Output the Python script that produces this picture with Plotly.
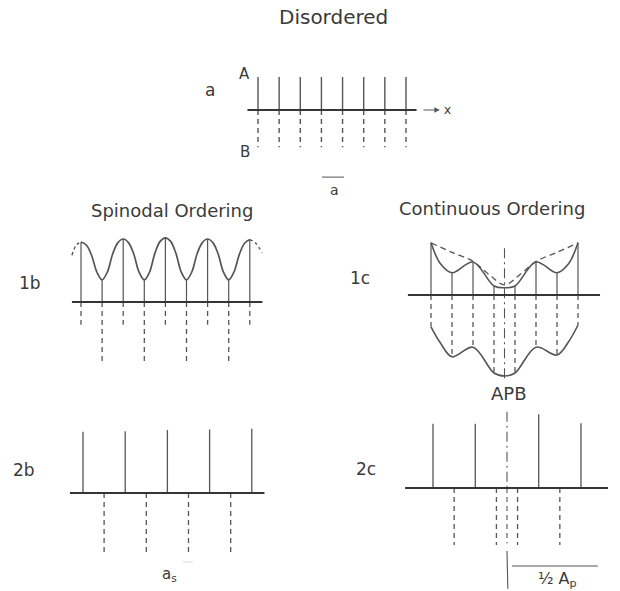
import plotly.graph_objects as go

W, H = 620, 591
PX = 60.0  # pixels per amplitude unit (vertical scale shared by all panels)

# ---------------- data (site index, amplitude) ----------------
# a : disordered lattice
DIS_SITES = [0, 1, 2, 3, 4, 5, 6, 7]
DIS_A = [0.55, 0.55, 0.55, 0.55, 0.55, 0.55, 0.55, 0.55]
DIS_B = [-0.62, -0.62, -0.62, -0.62, -0.62, -0.62, -0.62, -0.62]

# 1b : spinodal ordering
SPIN_SITES = [0, 1, 2, 3, 4, 5, 6, 7, 8]
SPIN_TOP = [1.00, 0.37, 1.05, 0.37, 1.07, 0.37, 1.05, 0.37, 1.04]
SPIN_BOT = [-0.38, -1.00, -0.38, -1.00, -0.38, -1.00, -0.38, -1.00, -0.38]
SPIN_CURVE_X = [0, 0.25, 0.5, 0.75, 1, 1.25, 1.5, 1.75, 2, 2.25, 2.5, 2.75, 3, 3.25, 3.5, 3.75,
                4, 4.25, 4.5, 4.75, 5, 5.25, 5.5, 5.75, 6, 6.25, 6.5, 6.75, 7, 7.25, 7.5, 7.75, 8]
SPIN_CURVE_Y = [1.00, 0.95, 0.78, 0.50, 0.37, 0.50, 0.80, 0.99, 1.05, 0.99, 0.80, 0.50, 0.37, 0.50,
                0.81, 1.01, 1.07, 1.01, 0.81, 0.50, 0.37, 0.50, 0.80, 0.99, 1.05, 0.99, 0.80, 0.50,
                0.37, 0.50, 0.79, 0.98, 1.04]
SPIN_END_L_X = [-0.43, -0.22, 0.0]
SPIN_END_L_Y = [0.78, 0.95, 1.00]
SPIN_END_R_X = [8.0, 8.28, 8.58]
SPIN_END_R_Y = [1.04, 0.98, 0.82]

# 1c : continuous ordering with antiphase boundary
CONT_SITES = [0, 1, 2, 3, 4, 5, 6, 7]
CONT_TOP = [0.87, 0.37, 0.55, 0.15, 0.15, 0.55, 0.37, 0.87]
CONT_BOT = [-0.53, -1.03, -0.87, -1.30, -1.30, -0.87, -1.03, -0.50]
CONT_CURVE_X = [0, 0.45, 1, 2, 3, 3.5, 4, 5, 6, 6.55, 7]
CONT_CURVE_TOP = [0.87, 0.52, 0.37, 0.55, 0.15, 0.12, 0.15, 0.55, 0.37, 0.52, 0.87]
CONT_CURVE_BOT = [-0.53, -0.80, -1.03, -0.87, -1.30, -1.35, -1.30, -0.87, -1.00, -0.78, -0.50]
CONT_ENV_X = [0, 1, 2, 2.8, 3.5, 4.2, 5, 6, 7]
CONT_ENV_Y = [0.87, 0.71, 0.56, 0.33, 0.17, 0.33, 0.56, 0.71, 0.87]
APB_POS = 3.5

# 2b : ordered (spinodal end state)
ORD_A_SITES = [0, 2, 4, 6, 8]
ORD_A = [1.02, 1.03, 1.05, 1.06, 1.07]
ORD_B_SITES = [1, 3, 5, 7]
ORD_B = [-1.00, -1.00, -1.00, -1.00]

# 2c : ordered with APB
APB_A_SITES = [0, 2, 5, 7]
APB_A = [1.07, 1.07, 1.23, 1.08]
APB_B_SITES = [1, 3, 4, 6]
APB_B = [-0.95, -0.95, -0.95, -0.95]

# ---------------- layout of the panels (pixel placement) ----------------
PANELS = {
    "a":  dict(k=1, x0=258, y0=110, pitch=21.14, xr=[-3.0, 10.5], yr=[-1.6, 1.0], base=[-0.5, 7.5]),
    "1b": dict(k=2, x0=81,  y0=302, pitch=21.10, xr=[-3.5, 9.5],  yr=[-1.2, 1.3], base=[-0.43, 8.6]),
    "1c": dict(k=3, x0=431, y0=295, pitch=21.00, xr=[-1.5, 8.5],  yr=[-1.5, 1.0], base=[-1.1, 8.05]),
    "2b": dict(k=4, x0=83,  y0=493, pitch=21.10, xr=[-3.5, 9.5],  yr=[-1.6, 1.2], base=[-0.62, 8.6]),
    "2c": dict(k=5, x0=433, y0=488, pitch=21.14, xr=[-1.5, 8.5],  yr=[-1.7, 1.7], base=[-1.32, 8.28]),
}

LINE = "#555555"
AXIS = "#353535"
TEXT = "#3a3a3a"
FONT = "DejaVu Sans"
DASH = "5px,4px"
DASHDOT = "10px,4px,2px,4px"

fig = go.Figure()
layout_axes = {}


def names(k):
    return ("x" if k == 1 else f"x{k}", "y" if k == 1 else f"y{k}")


for key, p in PANELS.items():
    k = p["k"]
    xmin, xmax = p["xr"]
    ymin, ymax = p["yr"]
    dx = [(p["x0"] + xmin * p["pitch"]) / W, (p["x0"] + xmax * p["pitch"]) / W]
    dy = [1 - (p["y0"] - ymin * PX) / H, 1 - (p["y0"] - ymax * PX) / H]
    xn, yn = names(k)
    layout_axes["xaxis" if k == 1 else f"xaxis{k}"] = dict(
        domain=dx, range=p["xr"], visible=False, fixedrange=True, anchor=yn)
    layout_axes["yaxis" if k == 1 else f"yaxis{k}"] = dict(
        domain=dy, range=p["yr"], visible=False, fixedrange=True, anchor=xn)


def stems(xs, ys):
    X, Y = [], []
    for x, y in zip(xs, ys):
        X += [x, x, None]
        Y += [0, y, None]
    return X, Y


def line(panel, x, y, color=LINE, width=1.3, dash="solid", shape="linear"):
    xn, yn = names(PANELS[panel]["k"])
    fig.add_trace(go.Scatter(x=x, y=y, mode="lines", xaxis=xn, yaxis=yn,
                             line=dict(color=color, width=width, dash=dash, shape=shape, smoothing=1.0),
                             hoverinfo="skip", showlegend=False))


def baseline(panel, width=2.0):
    b = PANELS[panel]["base"]
    line(panel, b, [0, 0], color=AXIS, width=width)


# ---- panel a ----
line("a", *stems(DIS_SITES, DIS_A), width=1.4)
line("a", *stems(DIS_SITES, DIS_B), width=1.4, dash=DASH)
baseline("a", 2.2)
line("a", [3.03, 4.07], [-1.12, -1.12], color="#777777", width=1.2)

# ---- panel 1b ----
line("1b", *stems(SPIN_SITES, SPIN_TOP), width=1.2)
line("1b", *stems(SPIN_SITES, SPIN_BOT), width=1.3, dash=DASH)
line("1b", SPIN_CURVE_X, SPIN_CURVE_Y, width=1.7, shape="spline")
line("1b", SPIN_END_L_X, SPIN_END_L_Y, width=1.4, dash="3px,3px", shape="spline")
line("1b", SPIN_END_R_X, SPIN_END_R_Y, width=1.4, dash="3px,3px", shape="spline")
baseline("1b", 2.2)

# ---- panel 1c ----
line("1c", *stems(CONT_SITES, CONT_TOP), width=1.2)
line("1c", *stems(CONT_SITES, CONT_BOT), width=1.3, dash=DASH)
line("1c", CONT_CURVE_X, CONT_CURVE_TOP, width=1.6, shape="spline")
line("1c", CONT_CURVE_X, CONT_CURVE_BOT, width=1.6, shape="spline")
line("1c", CONT_ENV_X, CONT_ENV_Y, width=1.3, dash="6px,4px", shape="spline")
line("1c", [APB_POS, APB_POS], [0.78, -1.42], width=1.1, dash=DASHDOT)
baseline("1c", 1.8)

# ---- panel 2b ----
line("2b", *stems(ORD_A_SITES, ORD_A), width=1.3)
line("2b", *stems(ORD_B_SITES, ORD_B), width=1.3, dash=DASH)
baseline("2b", 1.8)
line("2b", [4.74, 5.2], [-1.15, -1.15], color="#d8d8d8", width=1.0)

# ---- panel 2c ----
line("2c", *stems(APB_A_SITES, APB_A), width=1.3)
line("2c", *stems(APB_B_SITES, APB_B), width=1.3, dash=DASH)
line("2c", [APB_POS, APB_POS], [1.27, 0.0], width=1.1, dash=DASHDOT)
line("2c", [APB_POS, APB_POS], [0.0, -0.92], width=1.1, dash=DASH)
line("2c", [APB_POS, APB_POS + 0.04], [-1.05, -1.68], width=1.1)
line("2c", [3.74, 7.8], [-1.30, -1.30], width=1.1)
baseline("2c", 1.8)


# ---------------- text ----------------
def P(px, py):
    return px / W, 1 - py / H


ann = []


def paper_text(txt, px, py, size):
    x, y = P(px, py)
    ann.append(dict(text=txt, x=x, y=y, xref="paper", yref="paper", showarrow=False,
                    xanchor="center", yanchor="middle",
                    font=dict(family=FONT, size=size, color=TEXT)))


def axis_text(panel, txt, x, y, size):
    xn, yn = names(PANELS[panel]["k"])
    ann.append(dict(text=txt, x=x, y=y, xref=xn, yref=yn, showarrow=False,
                    xanchor="center", yanchor="middle",
                    font=dict(family=FONT, size=size, color=TEXT)))


paper_text("Disordered", 333, 17, 20)
paper_text("Spinodal Ordering", 172, 211, 18)
paper_text("Continuous Ordering", 492, 208, 18)

paper_text("a", 210, 90, 17)
paper_text("1b", 30, 283, 17)
paper_text("1c", 360, 278, 17)
paper_text("2b", 24, 470, 17)
paper_text("2c", 366, 469, 17)

axis_text("a", "A", -0.66, 0.6, 15)
axis_text("a", "B", -0.62, -0.7, 15)
axis_text("a", "x", 8.95, 0.0, 12)
axis_text("a", "a", 3.64, -1.33, 14)
ann.append(dict(text="", x=8.6, y=0, ax=7.76, ay=0, xref="x", yref="y", axref="x", ayref="y",
                showarrow=True, arrowhead=2, arrowsize=1.0, arrowwidth=1.1, arrowcolor=LINE))

axis_text("2b", "a<sub>s</sub>", 4.1, -1.36, 15)
axis_text("2c", "APB", 3.6, 1.57, 18)
axis_text("2c", "½ A<sub>p</sub>", 5.9, -1.52, 16)

fig.update_layout(
    width=W, height=H,
    margin=dict(l=0, r=0, t=0, b=0),
    paper_bgcolor="white", plot_bgcolor="white",
    showlegend=False,
    annotations=ann,
    **layout_axes,
)

fig.write_html("out.html", config={"displayModeBar": False, "staticPlot": True},
               post_script="document.body.style.margin='0';")
